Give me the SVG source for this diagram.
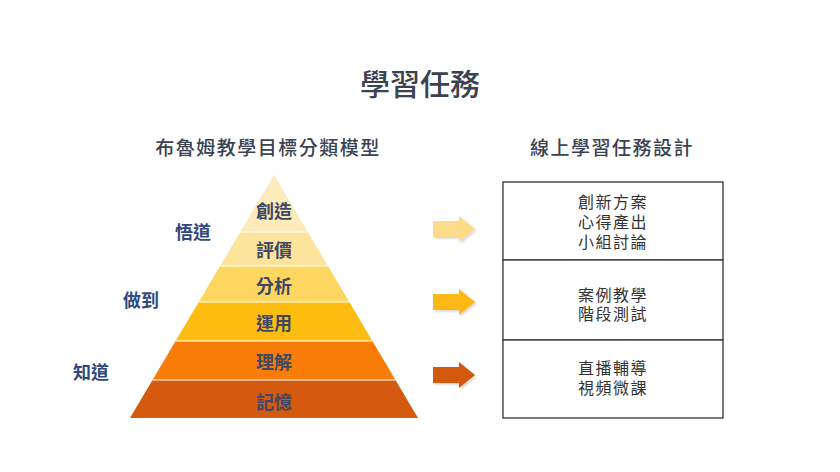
<svg xmlns="http://www.w3.org/2000/svg" width="840" height="472" viewBox="0 0 840 472">
<style>
.t{font-family:"Noto Sans CJK TC","Noto Sans CJK SC",sans-serif;text-anchor:middle;dominant-baseline:central}
.title{font-size:30px;font-weight:500;fill:#3b4252}
.sub{font-size:19px;font-weight:500;fill:#3b4252;letter-spacing:1.5px}
.lay{font-size:18px;font-weight:700;fill:#3f4864}
.side{font-size:18px;font-weight:700;fill:#304a80}
.box{font-family:"Liberation Sans","Noto Sans CJK TC",sans-serif;font-size:16px;fill:#333;letter-spacing:1.5px}
.cell{fill:#fff;stroke:#333;stroke-width:1.3}
.sep{stroke:#fff;stroke-width:1.5;stroke-opacity:0.7}
</style>
<defs>
<filter id="sh" x="-20%" y="-20%" width="150%" height="160%">
<feDropShadow dx="1.5" dy="1.5" stdDeviation="1.2" flood-color="#000" flood-opacity="0.18"/>
</filter>
<path id="arr" d="M0,-8 H26 V-13 L42,0 L26,13 V8 H0 Z"/>
</defs>
<rect width="840" height="472" fill="#fff"/>
<text class="t title" x="420" y="82">學習任務</text>
<text class="t sub" x="268" y="146">布魯姆教學目標分類模型</text>
<text class="t sub" x="612" y="146">線上學習任務設計</text>

<g id="pyramid">
<g id="layer-create"><polygon points="274,175 307.8,232 240.2,232" fill="#FCEBBB"/><text class="t lay" x="274" y="210">創造</text></g>
<g id="layer-evaluate"><polygon points="240.2,232 307.8,232 327.9,266 220.1,266" fill="#FDE49D"/><text class="t lay" x="274" y="249">評價</text></g>
<g id="layer-analyze"><polygon points="220.1,266 327.9,266 349.3,302 198.7,302" fill="#FDD660"/><text class="t lay" x="274" y="285">分析</text></g>
<g id="layer-apply"><polygon points="198.7,302 349.3,302 372.4,341 175.6,341" fill="#FDBD10"/><text class="t lay" x="274" y="322">運用</text></g>
<g id="layer-understand"><polygon points="175.6,341 372.4,341 395.5,380 152.5,380" fill="#F97B08"/><text class="t lay" x="274" y="361">理解</text></g>
<g id="layer-remember"><polygon points="152.5,380 395.5,380 418,418 130,418" fill="#D35A0E"/><text class="t lay" x="274" y="401">記憶</text></g>
<line class="sep" x1="240.2" y1="232" x2="307.8" y2="232"/>
<line class="sep" x1="220.1" y1="266" x2="327.9" y2="266"/>
<line class="sep" x1="198.7" y1="302" x2="349.3" y2="302"/>
<line class="sep" x1="175.6" y1="341" x2="372.4" y2="341"/>
<line class="sep" x1="152.5" y1="380" x2="395.5" y2="380"/>
</g>

<g id="side-labels">
<text class="t side" x="193" y="231">悟道</text>
<text class="t side" x="141" y="299">做到</text>
<text class="t side" x="91" y="371">知道</text>
</g>

<g id="connectors">
<use href="#arr" x="433" y="229" fill="#FDDB88" filter="url(#sh)"/>
<use href="#arr" x="433" y="302" fill="#FDB813" filter="url(#sh)"/>
<use href="#arr" x="433" y="375" fill="#D35A0E" filter="url(#sh)"/>
</g>

<g id="box-1"><rect class="cell" x="503" y="182" width="220" height="78"/>
<text class="t box" x="613" y="202"><tspan x="613" y="202">創新方案</tspan><tspan x="613" y="222">心得產出</tspan><tspan x="613" y="242">小組討論</tspan></text></g>
<g id="box-2"><rect class="cell" x="503" y="260" width="220" height="80"/>
<text class="t box" x="613" y="295"><tspan x="613" y="295">案例教學</tspan><tspan x="613" y="314">階段測試</tspan></text></g>
<g id="box-3"><rect class="cell" x="503" y="340" width="220" height="78"/>
<text class="t box" x="613" y="368"><tspan x="613" y="368">直播輔導</tspan><tspan x="613" y="388">視頻微課</tspan></text></g>
</svg>
